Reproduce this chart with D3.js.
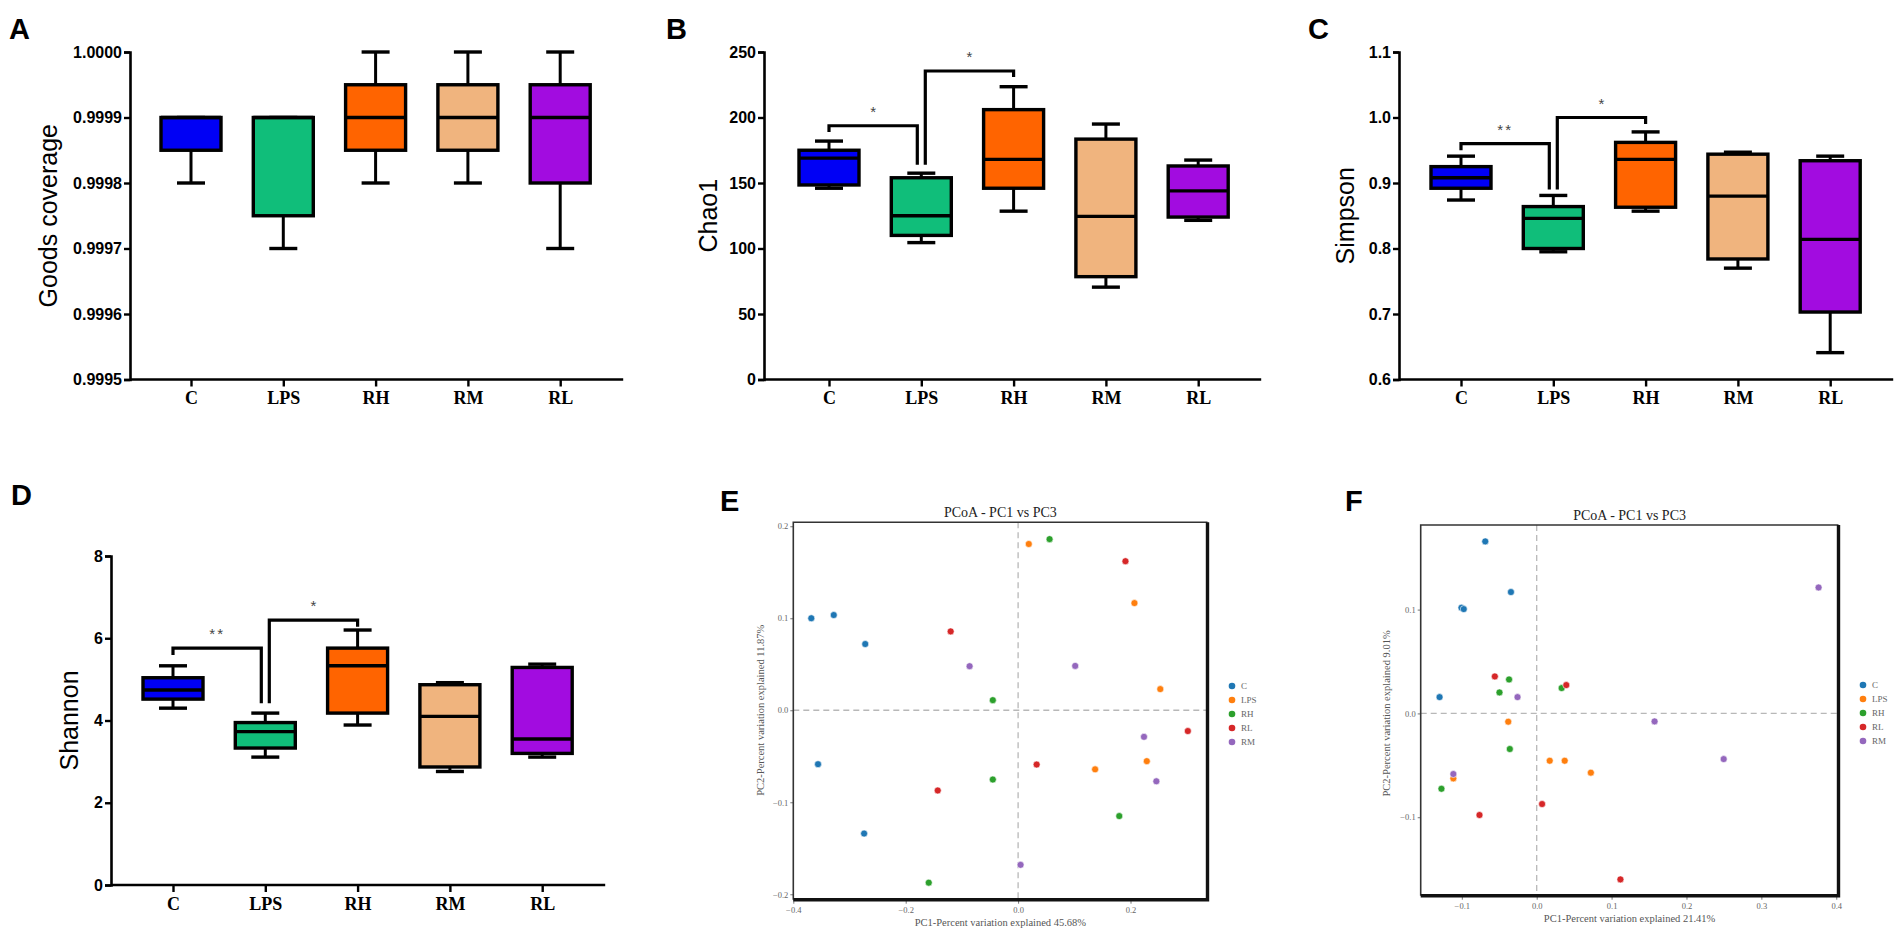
<!DOCTYPE html>
<html><head><meta charset="utf-8">
<script src="https://cdn.jsdelivr.net/npm/d3@7"></script>
<style>
html,body{margin:0;padding:0;background:#fff;}
svg{display:block;}
</style></head>
<body>
<svg id="chart" width="1904" height="937"></svg>
<script>
// ---------------- data ----------------
const categories = ["C", "LPS", "RH", "RM", "RL"];
const boxColors = ["#0000F5", "#10BE7A", "#FF6400", "#F0B47E", "#A20CE0"];

// [min, Q1, median, Q3, max]
const goodsCoverage = [
  [0.9998, 0.99985, 0.9999, 0.9999, 0.9999],
  [0.9997, 0.99975, 0.9999, 0.9999, 0.9999],
  [0.9998, 0.99985, 0.9999, 0.99995, 1.0000],
  [0.9998, 0.99985, 0.9999, 0.99995, 1.0000],
  [0.9997, 0.99980, 0.9999, 0.99995, 1.0000]
];
const chao1 = [
  [146, 148.5, 169, 175, 182],
  [104.5, 110, 125, 154, 157.5],
  [128.5, 146, 168, 206, 223.5],
  [70.5, 78.5, 124.5, 183.5, 195],
  [121.5, 124, 144, 163, 167.5]
];
const simpson = [
  [0.874, 0.892, 0.908, 0.925, 0.941],
  [0.795, 0.800, 0.846, 0.864, 0.881],
  [0.857, 0.863, 0.936, 0.962, 0.978],
  [0.770, 0.784, 0.880, 0.944, 0.947],
  [0.641, 0.703, 0.814, 0.934, 0.941]
];
const shannon = [
  [4.30, 4.52, 4.74, 5.04, 5.33],
  [3.11, 3.33, 3.73, 3.95, 4.18],
  [3.89, 4.18, 5.33, 5.76, 6.20],
  [2.76, 2.87, 4.10, 4.87, 4.92],
  [3.11, 3.20, 3.55, 5.29, 5.37]
];
const goodsTicks = [0.9995, 0.9996, 0.9997, 0.9998, 0.9999, 1.0000];
const chao1Ticks = [0, 50, 100, 150, 200, 250];
const simpsonTicks = [0.6, 0.7, 0.8, 0.9, 1.0, 1.1];
const shannonTicks = [0, 2, 4, 6, 8];

// significance brackets: [from, to, leftEnd, top, rightEnd, label]
const chao1Sig = [[0, 1, 189, 193.7, 164, "*"], [1, 2, 164, 235.5, 231, "*"]];
const simpsonSig = [[0, 1, 0.95, 0.96, 0.89, "**"], [1, 2, 0.89, 1.0, 0.99, "*"]];
const shannonSig = [[0, 1, 5.59, 5.76, 4.42, "**"], [1, 2, 4.42, 6.44, 6.28, "*"]];

// PCoA (E)
const pcoaGroups = ["C", "LPS", "RH", "RL", "RM"];
const pcoaColors = ["#1f77b4", "#ff7f0e", "#2ca02c", "#d62728", "#9467bd"];
const pcoaE_C   = [[-0.368, 0.100], [-0.328, 0.1035], [-0.272, 0.072], [-0.356, -0.0586], [-0.274, -0.134]];
const pcoaE_LPS = [[0.019, 0.1807], [0.207, 0.1165], [0.253, 0.023], [0.229, -0.0553], [0.137, -0.0642]];
const pcoaE_RH  = [[0.056, 0.186], [-0.045, 0.011], [-0.045, -0.0753], [-0.159, -0.1874], [0.180, -0.115]];
const pcoaE_RL  = [[0.191, 0.162], [-0.120, 0.0857], [-0.143, -0.0872], [0.033, -0.059], [0.302, -0.0226]];
const pcoaE_RM  = [[-0.0863, 0.0479], [0.1016, 0.0482], [0.224, -0.0289], [0.246, -0.0772], [0.0044, -0.168]];
const pcoaEXTicks = [-0.4, -0.2, 0.0, 0.2];
const pcoaEYTicks = [-0.2, -0.1, 0.0, 0.1, 0.2];
// PCoA (F)
const pcoaF_C   = [[-0.0687, 0.1657], [-0.0344, 0.1169], [-0.1005, 0.1018], [-0.0974, 0.1005], [-0.1297, 0.0157]];
const pcoaF_LPS = [[-0.038, -0.008], [0.0174, -0.0456], [0.0374, -0.0456], [0.0723, -0.0571], [-0.1113, -0.0626]];
const pcoaF_RH  = [[-0.0369, 0.0327], [-0.0497, 0.0202], [0.0333, 0.0244], [-0.0359, -0.0343], [-0.1272, -0.0726]];
const pcoaF_RL  = [[-0.0559, 0.0356], [0.0395, 0.0273], [0.0072, -0.0873], [-0.0764, -0.0979], [0.1118, -0.1599]];
const pcoaF_RM  = [[-0.0256, 0.0157], [-0.1113, -0.0584], [0.1574, -0.0077], [0.2497, -0.044], [0.3764, 0.1213]];
const pcoaFXTicks = [-0.1, 0.0, 0.1, 0.2, 0.3, 0.4];
const pcoaFYTicks = [-0.1, 0.0, 0.1];

// ---------------- drawing ----------------
const svg = d3.select("#chart");
const SANS = "'Liberation Sans', Arial, sans-serif";
const SERIF = "'Liberation Serif', 'Times New Roman', serif";

function panelLetter(txt, x, y) {
  svg.append("text").attr("x", x).attr("y", y).text(txt)
    .attr("font-family", SANS).attr("font-weight", "bold").attr("font-size", 29).attr("fill", "#000");
}

function boxPanel(o) {
  const g = svg.append("g");
  const y = d3.scaleLinear().domain(o.domain).range([o.bottom, o.top]);
  const x = d3.scalePoint().domain(categories).range([o.first, o.first + 4 * 92.3]);
  const xEnd = o.first + 4 * 92.3 + 63;
  const bw = 60, cw = 28;

  // y axis
  const ya = g.append("g").attr("transform", `translate(${o.axisX},0)`)
    .call(d3.axisLeft(y).tickValues(o.ticks).tickFormat(d3.format(o.fmt)).tickSize(6).tickPadding(2));
  ya.select(".domain").attr("stroke", "#000").attr("stroke-width", 2.6);
  ya.selectAll(".tick line").attr("stroke", "#000").attr("stroke-width", 2.4);
  ya.selectAll(".tick text").attr("font-family", SANS).attr("font-weight", "bold")
    .attr("font-size", 16).attr("fill", "#000");

  // x axis
  const xa = g.append("g").attr("transform", `translate(0,${o.bottom})`)
    .call(d3.axisBottom(x).tickSize(7).tickPadding(5).tickSizeOuter(0));
  xa.select(".domain").attr("d", `M${o.axisX},0H${xEnd}`).attr("stroke", "#000").attr("stroke-width", 2.6);
  xa.selectAll(".tick line").attr("stroke", "#000").attr("stroke-width", 2.4);
  xa.selectAll(".tick text").attr("font-family", SERIF).attr("font-weight", "bold")
    .attr("font-size", 18).attr("fill", "#000");

  // y label
  g.append("text").attr("transform", `translate(${o.labelX},${(o.top + o.bottom) / 2}) rotate(-90)`)
    .attr("text-anchor", "middle").attr("dy", "0.35em").text(o.label)
    .attr("font-family", SANS).attr("font-size", 25).attr("fill", "#000");

  // boxes
  const bx = g.selectAll(".bx").data(o.data).enter().append("g");
  bx.append("line")
    .attr("x1", (d, i) => x(categories[i])).attr("x2", (d, i) => x(categories[i]))
    .attr("y1", d => y(d[0])).attr("y2", d => y(d[4]))
    .attr("stroke", "#000").attr("stroke-width", 3);
  bx.append("line")
    .attr("x1", (d, i) => x(categories[i]) - cw / 2).attr("x2", (d, i) => x(categories[i]) + cw / 2)
    .attr("y1", d => y(d[0])).attr("y2", d => y(d[0]))
    .attr("stroke", "#000").attr("stroke-width", 3.4);
  bx.append("line")
    .attr("x1", (d, i) => x(categories[i]) - cw / 2).attr("x2", (d, i) => x(categories[i]) + cw / 2)
    .attr("y1", d => y(d[4])).attr("y2", d => y(d[4]))
    .attr("stroke", "#000").attr("stroke-width", 3.4);
  bx.append("rect")
    .attr("x", (d, i) => x(categories[i]) - bw / 2).attr("width", bw)
    .attr("y", d => y(d[3])).attr("height", d => Math.max(0.5, y(d[1]) - y(d[3])))
    .attr("fill", (d, i) => boxColors[i]).attr("stroke", "#000").attr("stroke-width", 3.4);
  bx.append("line")
    .attr("x1", (d, i) => x(categories[i]) - bw / 2).attr("x2", (d, i) => x(categories[i]) + bw / 2)
    .attr("y1", d => y(d[2])).attr("y2", d => y(d[2]))
    .attr("stroke", "#000").attr("stroke-width", 3.4);

  // significance brackets
  if (o.sig) {
    o.sig.forEach(s => {
      const [a, b, lv, tv, rv, lab] = s;
      const xa0 = x(categories[a]) + (a === 1 ? 4 : 0);
      const xb0 = x(categories[b]) + (b === 1 ? -4 : 0);
      g.append("path")
        .attr("d", `M${xa0},${y(lv)}V${y(tv)}H${xb0}V${y(rv)}`)
        .attr("fill", "none").attr("stroke", "#000").attr("stroke-width", 3.2);
      g.append("text").attr("x", (xa0 + xb0) / 2).attr("y", y(tv) - 9)
        .attr("text-anchor", "middle").text(lab)
        .attr("font-family", SANS).attr("font-size", 15).attr("fill", "#444")
        .attr("letter-spacing", lab.length > 1 ? 2 : 0);
    });
  }
}

panelLetter("A", 9, 39);
boxPanel({axisX: 130, first: 191, top: 52, bottom: 379.5, domain: [0.9995, 1.0], ticks: goodsTicks, fmt: ".4f",
  label: "Goods coverage", labelX: 48, data: goodsCoverage});
panelLetter("B", 666, 39);
boxPanel({axisX: 764, first: 829, top: 52, bottom: 379.5, domain: [0, 250], ticks: chao1Ticks, fmt: "d",
  label: "Chao1", labelX: 708, data: chao1, sig: chao1Sig});
panelLetter("C", 1308, 39);
boxPanel({axisX: 1399, first: 1461, top: 52, bottom: 379.5, domain: [0.6, 1.1], ticks: simpsonTicks, fmt: ".1f",
  label: "Simpson", labelX: 1345, data: simpson, sig: simpsonSig});
panelLetter("D", 11, 505);
boxPanel({axisX: 111, first: 173, top: 556, bottom: 885, domain: [0, 8], ticks: shannonTicks, fmt: "d",
  label: "Shannon", labelX: 69, data: shannon, sig: shannonSig});

function pcoaPanel(o) {
  const g = svg.append("g");
  const x = d3.scaleLinear().domain(o.xd).range([o.x0, o.x1]);
  const y = d3.scaleLinear().domain(o.yd).range([o.y1, o.y0]);
  // dashed zero lines
  g.append("line").attr("x1", x(0)).attr("x2", x(0)).attr("y1", o.y0).attr("y2", o.y1)
    .attr("stroke", "#b8b8b8").attr("stroke-width", 1.3).attr("stroke-dasharray", "6,4");
  g.append("line").attr("x1", o.x0).attr("x2", o.x1).attr("y1", y(0)).attr("y2", y(0))
    .attr("stroke", "#b8b8b8").attr("stroke-width", 1.3).attr("stroke-dasharray", "6,4");
  // axes
  const ya = g.append("g").attr("transform", `translate(${o.x0},0)`)
    .call(d3.axisLeft(y).tickValues(o.yt).tickFormat(d3.format(".1f")).tickSize(3).tickPadding(2).tickSizeOuter(0));
  ya.select(".domain").remove();
  ya.selectAll(".tick line").attr("stroke", "#777");
  ya.selectAll(".tick text").attr("font-family", SERIF).attr("font-size", 8.5).attr("fill", "#666");
  const xa = g.append("g").attr("transform", `translate(0,${o.y1})`)
    .call(d3.axisBottom(x).tickValues(o.xt).tickFormat(d3.format(".1f")).tickSize(4).tickPadding(3).tickSizeOuter(0));
  xa.select(".domain").remove();
  xa.selectAll(".tick line").attr("stroke", "#777");
  xa.selectAll(".tick text").attr("font-family", SERIF).attr("font-size", 8.5).attr("fill", "#666");
  // frame
  g.append("path").attr("d", `M${o.x0},${o.y1}V${o.y0}H${o.x1}`).attr("fill", "none")
    .attr("stroke", "#333").attr("stroke-width", 1.6);
  g.append("path").attr("d", `M${o.x0},${o.y1}H${o.x1}V${o.y0}`).attr("fill", "none")
    .attr("stroke", "#111").attr("stroke-width", 3.4);
  // points
  o.series.forEach((pts, i) => {
    g.selectAll(null).data(pts).enter().append("circle")
      .attr("cx", d => x(d[0])).attr("cy", d => y(d[1])).attr("r", 3.5)
      .attr("fill", pcoaColors[i]).attr("stroke", "#fff").attr("stroke-width", 0.6);
  });
  // title & labels
  const cx = (o.x0 + o.x1) / 2;
  g.append("text").attr("x", cx).attr("y", o.y0 - 5).attr("text-anchor", "middle").text(o.title)
    .attr("font-family", SERIF).attr("font-size", 14).attr("fill", "#222");
  g.append("text").attr("x", cx).attr("y", o.y1 + 26).attr("text-anchor", "middle").text(o.xlab)
    .attr("font-family", SERIF).attr("font-size", 10.5).attr("fill", "#555");
  g.append("text").attr("transform", `translate(${o.ylabX},${y(0)}) rotate(-90)`)
    .attr("text-anchor", "middle").text(o.ylab)
    .attr("font-family", SERIF).attr("font-size", 10.5).attr("fill", "#555");
  // legend
  pcoaGroups.forEach((name, i) => {
    const ly = o.legY + i * 14;
    g.append("circle").attr("cx", o.legX).attr("cy", ly).attr("r", 3.3).attr("fill", pcoaColors[i]);
    g.append("text").attr("x", o.legX + 9).attr("y", ly).attr("dy", "0.35em").text(name)
      .attr("font-family", SERIF).attr("font-size", 9).attr("fill", "#666");
  });
}

panelLetter("E", 720, 511);
pcoaPanel({x0: 793.3, x1: 1207.5, y0: 522.3, y1: 899.7, xd: [-0.4, 0.337], yd: [-0.2059, 0.2043],
  xt: pcoaEXTicks, yt: pcoaEYTicks, series: [pcoaE_C, pcoaE_LPS, pcoaE_RH, pcoaE_RL, pcoaE_RM],
  title: "PCoA - PC1 vs PC3", xlab: "PC1-Percent variation explained 45.68%",
  ylab: "PC2-Percent variation explained 11.87%", ylabX: 764, legX: 1232, legY: 686});

panelLetter("F", 1345, 511);
pcoaPanel({x0: 1420.7, x1: 1838.5, y0: 525, y1: 895.7, xd: [-0.1549, 0.403], yd: [-0.1756, 0.1815],
  xt: pcoaFXTicks, yt: pcoaFYTicks, series: [pcoaF_C, pcoaF_LPS, pcoaF_RH, pcoaF_RL, pcoaF_RM],
  title: "PCoA - PC1 vs PC3", xlab: "PC1-Percent variation explained 21.41%",
  ylab: "PC2-Percent variation explained 9.01%", ylabX: 1390, legX: 1863, legY: 685});
</script>
</body></html>
